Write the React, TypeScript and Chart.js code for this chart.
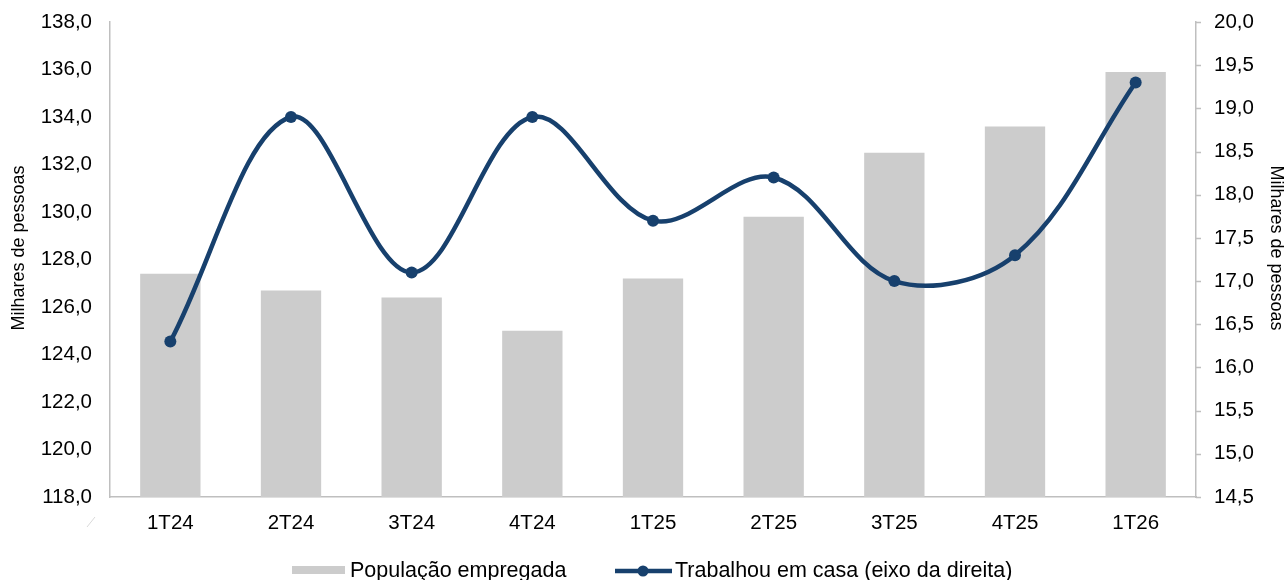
import React, { useEffect, useRef } from "react";
import { Chart, registerables } from "chart.js";

Chart.register(...registerables);

const categories = ["1T24", "2T24", "3T24", "4T24", "1T25", "2T25", "3T25", "4T25", "1T26"];
const populacaoEmpregada = [127.4, 126.7, 126.4, 125.0, 127.2, 129.8, 132.5, 133.6, 135.9];
const trabalhouEmCasa = [16.3, 18.9, 17.1, 18.9, 17.7, 18.2, 17.0, 17.3, 19.3];
const leftAxisRange = [118, 138, 2];
const rightAxisRange = [14.5, 20, 0.5];
const axisTitle = "Milhares de pessoas";
const legendBar = "População empregada";
const legendLine = "Trabalhou em casa (eixo da direita)";

const FONT = "'Liberation Sans', Arial, sans-serif";
const LINE_COLOR = "#17406D";
const BAR_COLOR = "#CCCCCC";
const AXIS_COLOR = "#BFBFBF";

const fmt = (v: number) => Number(v).toFixed(1).replace(".", ",");

const legendPlugin = {
  id: "customLegend",
  afterDraw(chart: any) {
    const ctx = chart.ctx;
    ctx.save();
    // small artifact mark near the origin
    ctx.strokeStyle = "#D9D9D9";
    ctx.lineWidth = 1;
    ctx.beginPath();
    ctx.moveTo(87, 527);
    ctx.lineTo(95, 517);
    ctx.stroke();

    // right-axis outward tick marks
    const y1 = chart.scales.y1;
    ctx.strokeStyle = AXIS_COLOR;
    ctx.lineWidth = 1.5;
    y1.ticks.forEach((t: any) => {
      const py = Math.round(y1.getPixelForValue(t.value)) + 0.5;
      ctx.beginPath();
      ctx.moveTo(y1.left, py);
      ctx.lineTo(y1.left + 5, py);
      ctx.stroke();
    });

    // axis titles
    ctx.fillStyle = "#000";
    ctx.font = `18px ${FONT}`;
    ctx.textAlign = "center";
    ctx.textBaseline = "middle";
    ctx.save();
    ctx.translate(19, 248);
    ctx.rotate(-Math.PI / 2);
    ctx.fillText(axisTitle, 0, 0);
    ctx.restore();
    ctx.save();
    ctx.translate(1276, 248);
    ctx.rotate(Math.PI / 2);
    ctx.fillText(axisTitle, 0, 0);
    ctx.restore();

    // legend
    const y = 571;
    ctx.fillStyle = BAR_COLOR;
    ctx.fillRect(292, y - 5, 53, 8);
    ctx.font = `21.5px ${FONT}`;
    ctx.fillStyle = "#000";
    ctx.textBaseline = "alphabetic";
    ctx.textAlign = "left";
    ctx.fillText(legendBar, 350, 577);

    ctx.strokeStyle = LINE_COLOR;
    ctx.lineWidth = 4.5;
    ctx.beginPath();
    ctx.moveTo(615, y);
    ctx.lineTo(672, y);
    ctx.stroke();
    ctx.fillStyle = LINE_COLOR;
    ctx.beginPath();
    ctx.arc(643, y, 5.5, 0, Math.PI * 2);
    ctx.fill();
    ctx.fillStyle = "#000";
    ctx.fillText(legendLine, 675, 577);
    ctx.restore();
  },
};

export default function App() {
  const ref = useRef<HTMLCanvasElement>(null);
  useEffect(() => {
    if (!ref.current) return;
    const chart = new Chart(ref.current, {
      type: "bar",
      data: {
        labels: categories,
        datasets: [
          {
            type: "line",
            label: legendLine,
            data: trabalhouEmCasa,
            yAxisID: "y1",
            borderColor: LINE_COLOR,
            backgroundColor: LINE_COLOR,
            borderWidth: 4.5,
            pointRadius: 6,
            pointBackgroundColor: LINE_COLOR,
            pointBorderWidth: 0,
            tension: 0.35,
            order: 1,
          } as any,
          {
            type: "bar",
            label: legendBar,
            data: populacaoEmpregada,
            yAxisID: "y",
            backgroundColor: BAR_COLOR,
            barPercentage: 0.5,
            categoryPercentage: 1,
            order: 2,
          },
        ],
      },
      options: {
        responsive: false,
        animation: false,
        layout: { padding: { top: 22, left: 0, right: 0, bottom: 0 } },
        plugins: { legend: { display: false }, tooltip: { enabled: false } },
        scales: {
          x: {
            grid: { display: false, drawTicks: false },
            border: { display: true, color: AXIS_COLOR, width: 1.5 },
            ticks: { color: "#000", font: { family: FONT, size: 20.5 }, padding: 14 },
            afterFit: (s: any) => { s.height = 83; },
          },
          y: {
            position: "left",
            min: leftAxisRange[0],
            max: leftAxisRange[1],
            grid: { display: false, drawTicks: true, tickLength: 18 },
            border: { display: true, color: AXIS_COLOR, width: 1.5 },
            ticks: {
              stepSize: leftAxisRange[2],
              autoSkip: false,
              color: "#000",
              font: { family: FONT, size: 20.5 },
              padding: 0,
              callback: (v: any) => fmt(v),
            },
            afterFit: (s: any) => { s.width = 110; },
          },
          y1: {
            position: "right",
            min: rightAxisRange[0],
            max: rightAxisRange[1],
            grid: { display: false, drawTicks: true, tickLength: 18 },
            border: { display: true, color: AXIS_COLOR, width: 1.5 },
            ticks: {
              stepSize: rightAxisRange[2],
              autoSkip: false,
              color: "#000",
              font: { family: FONT, size: 20.5 },
              padding: 0,
              callback: (v: any) => fmt(v),
            },
            afterFit: (s: any) => { s.width = 92; },
          },
        },
      } as any,
      plugins: [legendPlugin],
    });
    return () => chart.destroy();
  }, []);
  return (
    <div style={{ position: "fixed", left: 0, top: 0, width: 1288, height: 580, background: "#fff" }}>
      <canvas ref={ref} width={1288} height={580} style={{ width: 1288, height: 580 }} />
    </div>
  );
}
